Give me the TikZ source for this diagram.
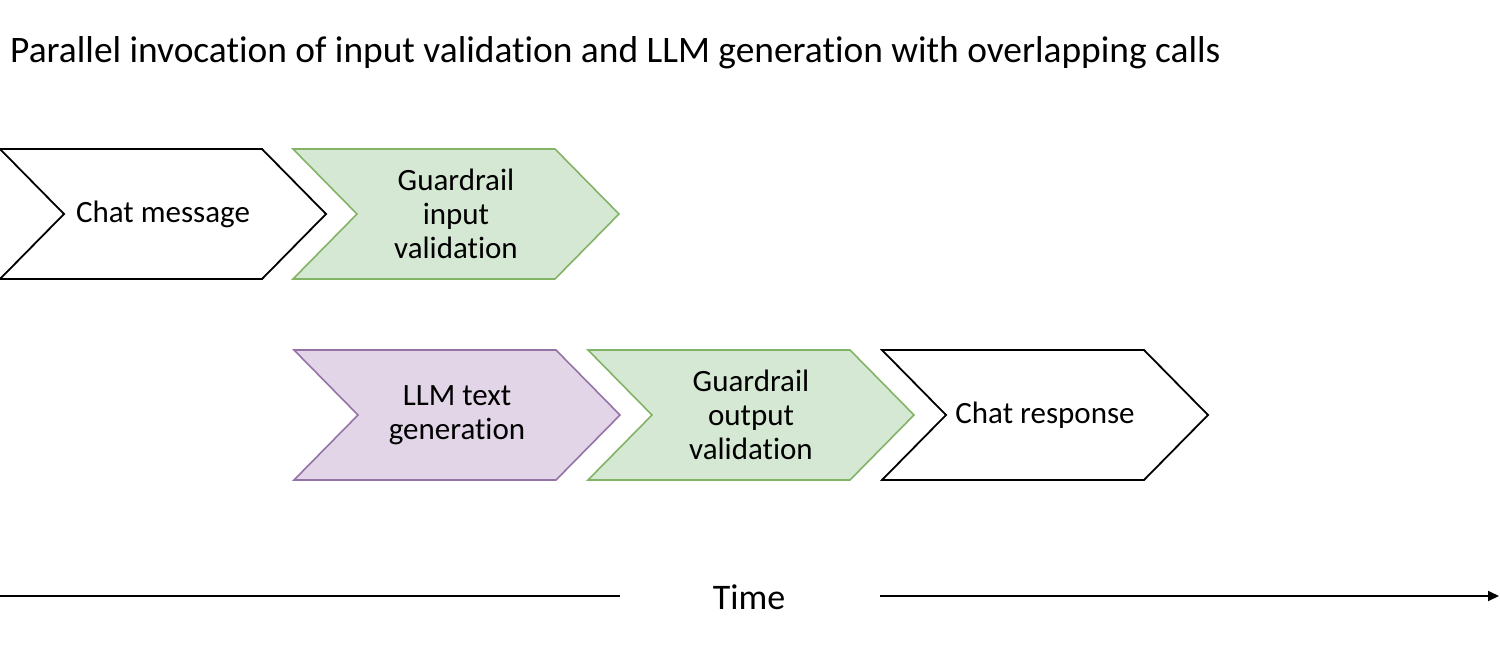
\documentclass[tikz,border=0pt]{standalone}
\usepackage{fontspec}
\setmainfont{Carlito}[Ligatures=NoCommon]
\usetikzlibrary{arrows.meta}
\definecolor{gfill}{HTML}{D5E8D4}
\definecolor{gdraw}{HTML}{82B366}
\definecolor{pfill}{HTML}{E1D5E7}
\definecolor{pdraw}{HTML}{9673A6}
\tikzset{
  plainchev/.style={draw=black, fill=white, line width=1.8pt},
  greenchev/.style={draw=gdraw, fill=gfill, line width=1.6pt},
  purplechev/.style={draw=pdraw, fill=pfill, line width=1.6pt},
  lbl/.style={align=center, inner sep=0pt, font=\fontsize{31}{34}\selectfont},
  timeline/.style={line width=1.8pt, draw=black},
}
\newcommand\mychev[5]{%
  \draw[#4] (#2,#3) -- ({#2+326-64},#3) -- ({#2+326},{#3+65}) -- ({#2+326-64},{#3+130}) -- (#2,{#3+130}) -- ({#2+64},{#3+65}) -- cycle;
  \node[lbl] (#1) at ({#2+163},{#3+65}) {#5};
}
\begin{document}
\begin{tikzpicture}[x=1pt,y=-1pt]
\useasboundingbox (0,0) rectangle (1500,665);
\node[anchor=base west, inner sep=0pt, font=\fontsize{37.4}{42}\selectfont] (title) at (10,62)
  {Parallel invocation of input validation and LLM generation with overlapping calls};
\mychev{chatmsg}{0}{149}{plainchev}{Chat message}
\mychev{gin}{293}{149}{greenchev}{Guardrail\\input\\validation}
\mychev{llm}{294}{350}{purplechev}{LLM text\\generation}
\mychev{gout}{588}{350}{greenchev}{Guardrail\\output\\validation}
\mychev{chatresp}{882}{350}{plainchev}{Chat response}
\coordinate (t0) at (0,596);
\coordinate (t1) at (620,596);
\coordinate (t2) at (880,596);
\coordinate (t3) at (1499,596);
\draw[timeline] (t0) -- (t1);
\draw[timeline, -{Triangle[length=11pt,width=10pt]}] (t2) -- (t3);
\node[anchor=base, inner sep=0pt, font=\fontsize{36}{40}\selectfont] (time) at (749,609) {Time};
\end{tikzpicture}
\end{document}
